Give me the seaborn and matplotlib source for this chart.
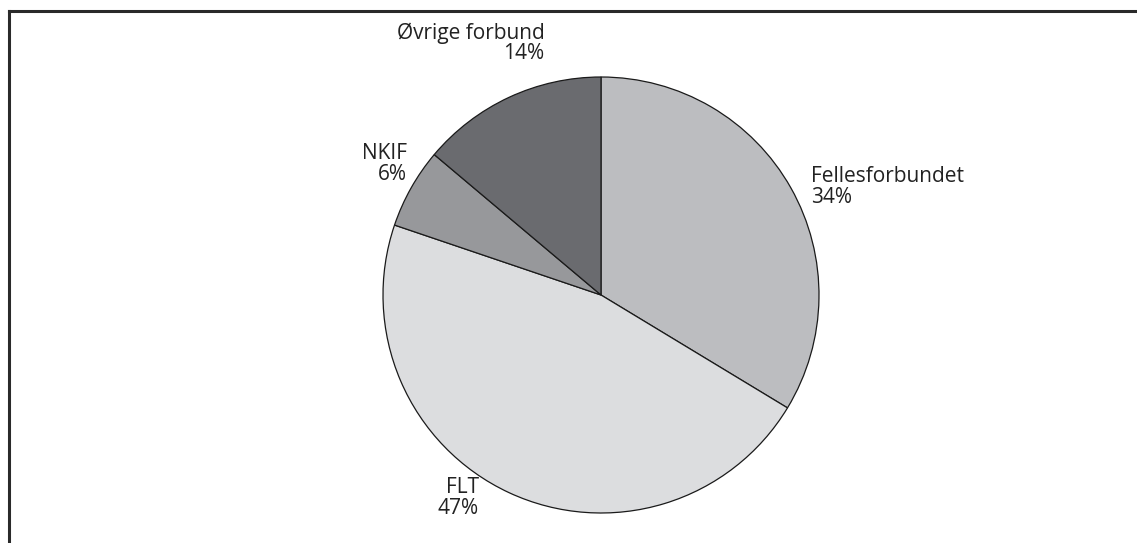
import matplotlib
matplotlib.use("Agg")
import matplotlib.pyplot as plt
import seaborn as sns
from matplotlib.lines import Line2D

sns.set_theme(style="white")
plt.rcParams['font.family'] = ['Open Sans', 'DejaVu Sans']

categories = ["Fellesforbundet", "FLT", "NKIF", "Øvrige forbund"]
shares = [34, 47, 6, 14]
colors = ["#bcbdc0", "#dcdddf", "#97989b", "#6a6b6f"]

# label layout (data units, pie radius = 1)
label_pos = [(0.965, 0.495), (-0.56, -0.93), (-0.89, 0.60), (-0.26, 1.155)]
label_ha = ["left", "right", "right", "right"]

W, H = 1137, 543
fig = plt.figure(figsize=(W / 100, H / 100), dpi=100)
ax = fig.add_axes([0, 0, 1, 1])

cx, cy, R = 601, 295, 218
wedges, _ = ax.pie(shares, colors=colors, startangle=90, counterclock=False,
                   wedgeprops=dict(edgecolor="#1a1a1a", linewidth=0.9))
for name, val, (x, y), ha in zip(categories, shares, label_pos, label_ha):
    ax.text(x, y, f"{name}\n{val}%", ha=ha, va="center", fontsize=15,
            color="#222222", linespacing=0.98)

ax.set_aspect("auto")
ax.set_xlim(-cx / R, (W - cx) / R)
ax.set_ylim(-(H - cy) / R, cy / R)
ax.axis("off")

# frame lines (top and left)
fig.add_artist(Line2D([9 / W, 1], [1 - 11 / H, 1 - 11 / H], transform=fig.transFigure,
                      color="#2a2a2a", linewidth=2.2, solid_capstyle="projecting"))
fig.add_artist(Line2D([9 / W, 9 / W], [0, 1 - 11 / H], transform=fig.transFigure,
                      color="#2a2a2a", linewidth=2.2, solid_capstyle="projecting"))

fig.savefig("out.png", dpi=100, facecolor="white")
